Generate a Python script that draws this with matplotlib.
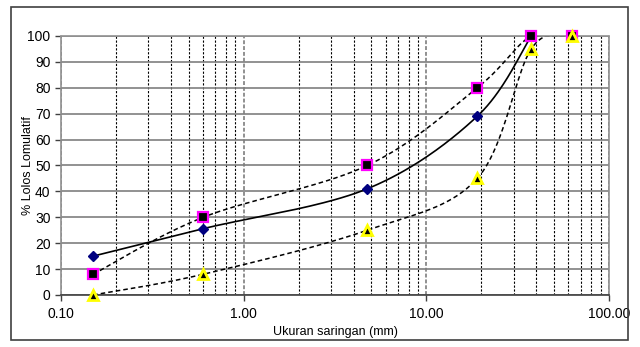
import numpy as np
import matplotlib.pyplot as plt
import matplotlib.patches as patches
from matplotlib.ticker import LogLocator, FixedLocator

plt.rcParams['font.family'] = ['Liberation Sans', 'DejaVu Sans']

# data
ukuran = [0.15, 0.6, 4.75, 19.0, 37.5, 63.0]
lolos = [15, 25.6, 41, 69, 100]            # gradasi hasil uji
batas_atas = [8, 30, 50, 80, 100, 100]     # batas atas
batas_bawah = [0, 8, 25, 45, 95, 100]      # batas bawah
x_labels = ["0.10", "1.00", "10.00", "100.00"]


def smooth(xs, ys, n=40):
    # kurva halus ala Excel (Catmull-Rom / Bezier) di ruang log x
    lx = np.log10(np.asarray(xs, float))
    y = np.asarray(ys, float)
    p = np.column_stack([lx, y])
    pts = []
    for i in range(len(p) - 1):
        p0 = p[i - 1] if i > 0 else p[i]
        p1, p2 = p[i], p[i + 1]
        p3 = p[i + 2] if i + 2 < len(p) else p[i + 1]
        c1 = p1 + (p2 - p0) / 6
        c2 = p2 - (p3 - p1) / 6
        t = np.linspace(0, 1, n)[:, None]
        seg = ((1 - t) ** 3) * p1 + 3 * ((1 - t) ** 2) * t * c1 + 3 * (1 - t) * t ** 2 * c2 + t ** 3 * p2
        pts.append(seg)
    pts = np.vstack(pts)
    return 10 ** pts[:, 0], np.minimum(pts[:, 1], 100)


fig = plt.figure(figsize=(6.4, 3.47), dpi=100)
ax = fig.add_axes([0.0953, 0.1499, 0.8563, 0.7464])

# bingkai luar
fig.patches.append(patches.Rectangle((11 / 640, 7 / 347), 617 / 640, 333 / 347,
                                     transform=fig.transFigure, fill=False,
                                     edgecolor='#404040', linewidth=1.2))

ax.set_xscale('log')
ax.set_xlim(0.1, 100)
ax.set_ylim(0, 100)

# grid
ax.xaxis.set_minor_locator(LogLocator(base=10, subs=np.arange(2, 10)))
ax.grid(True, which='minor', axis='x', color='black', linestyle=(0, (2, 1.5)), linewidth=0.8)
ax.grid(True, which='major', axis='x', color='#909090', linestyle=(0, (2, 1)), linewidth=1.4)
ax.grid(True, which='major', axis='y', color='#7f7f7f', linestyle='-', linewidth=1.2)
ax.set_axisbelow(True)

ax.set_yticks(np.arange(0, 101, 10))
ax.xaxis.set_major_locator(FixedLocator([0.1, 1, 10, 100]))
ax.set_xticklabels(x_labels)
ax.tick_params(axis='x', which='minor', length=0)
ax.tick_params(axis='both', which='major', labelsize=10, color='#404040', length=4, width=1)
ax.tick_params(axis='x', pad=5)

for s in ['top', 'right', 'left']:
    ax.spines[s].set_color('#909090')
    ax.spines[s].set_linestyle((0, (2, 1)))
    ax.spines[s].set_linewidth(1.2)
ax.spines['bottom'].set_color('#404040')
ax.spines['bottom'].set_linewidth(1.2)

# kurva
sx, sy = smooth(ukuran[:len(batas_atas)], batas_atas)
ax.plot(sx, sy, color='black', linestyle=(0, (3, 2)), linewidth=1.1)
sx, sy = smooth(ukuran[:len(batas_bawah)], batas_bawah)
ax.plot(sx, sy, color='black', linestyle=(0, (3, 2)), linewidth=1.1)
sx, sy = smooth(ukuran[:len(lolos)], lolos)
ax.plot(sx, sy, color='black', linestyle='-', linewidth=1.2)

ax.plot(ukuran[:len(lolos)], lolos, linestyle='none', marker='D', markersize=5.5,
        color='#000080', markeredgecolor='#000080', clip_on=False, zorder=5)
ax.plot(ukuran, batas_atas, linestyle='none', marker='s', markersize=7.5,
        markerfacecolor='black', markeredgecolor='#ff00ff', markeredgewidth=1.6,
        clip_on=False, zorder=6)
ax.plot(ukuran, batas_bawah, linestyle='none', marker='^', markersize=7.5,
        markerfacecolor='black', markeredgecolor='#ffff00', markeredgewidth=2,
        clip_on=False, zorder=7)

ax.set_xlabel("Ukuran saringan (mm)", fontsize=9, labelpad=3)
ax.set_ylabel("% Lolos Lomulatif", fontsize=9)
ax.yaxis.set_label_coords(-0.049, 0.5)

plt.savefig("out.png", dpi=100)
